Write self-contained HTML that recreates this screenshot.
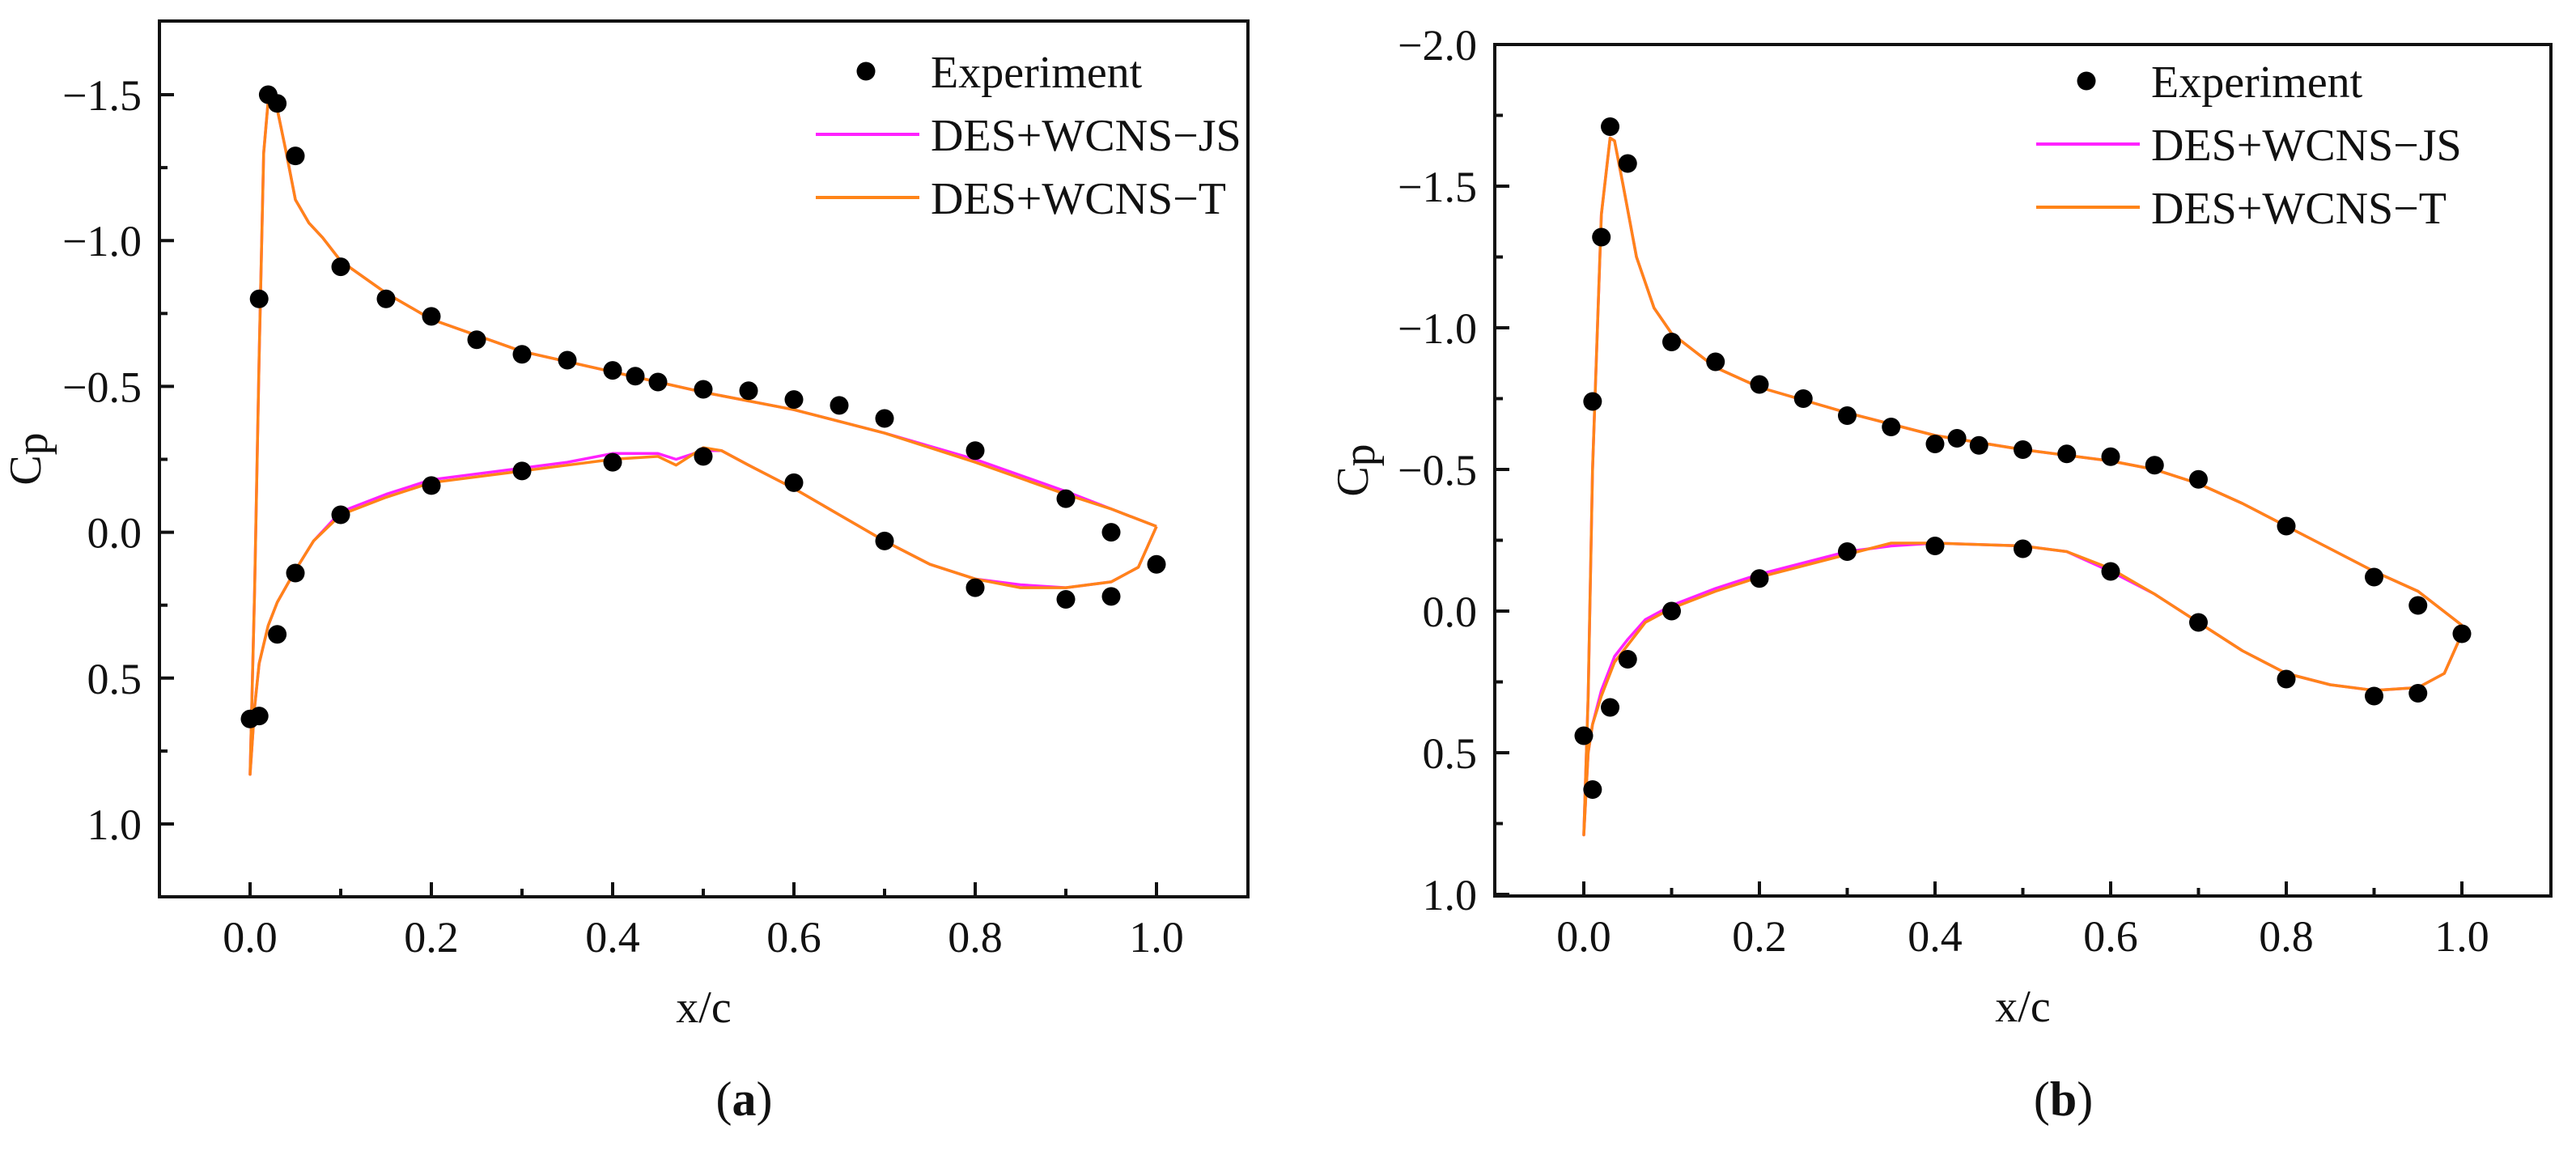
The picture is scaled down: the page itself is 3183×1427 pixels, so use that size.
<!DOCTYPE html>
<html><head><meta charset="utf-8"><style>
html,body{margin:0;padding:0;background:#fff;}
svg text{font-family:"Liberation Serif",serif;fill:#111;}
</style></head><body>
<svg id="fig" width="3183" height="1422" viewBox="0 0 3183 1422" xmlns="http://www.w3.org/2000/svg"></svg>
<script>
// Panel (a) data
const aExpUpX=[0.01,0.02,0.03,0.05,0.1,0.15,0.2,0.25,0.3,0.35,0.4,0.425,0.45,0.5,0.55,0.6,0.65,0.7,0.8,0.9,0.95,1.0];
const aExpUpY=[-0.80,-1.50,-1.47,-1.29,-0.91,-0.80,-0.74,-0.66,-0.61,-0.59,-0.555,-0.535,-0.515,-0.49,-0.485,-0.455,-0.435,-0.39,-0.28,-0.115,0.0,0.11];
const aExpLoX=[0,0.01,0.03,0.05,0.1,0.2,0.3,0.4,0.5,0.6,0.7,0.8,0.9,0.95];
const aExpLoY=[0.64,0.63,0.35,0.14,-0.06,-0.16,-0.21,-0.24,-0.26,-0.17,0.03,0.19,0.23,0.22];
const aCurveX=[1.0,0.95,0.9,0.8,0.7,0.6,0.5,0.4,0.3,0.2,0.15,0.1,0.08,0.065,0.05,0.04,0.03,0.02,0.015,0.01,0.005,0,0.005,0.01,0.02,0.03,0.05,0.07,0.1,0.15,0.2,0.3,0.35,0.4,0.45,0.47,0.5,0.52,0.55,0.6,0.65,0.7,0.75,0.8,0.85,0.9,0.95,0.98,1.0];
const aTY=[-0.02,-0.08,-0.13,-0.24,-0.34,-0.42,-0.48,-0.55,-0.62,-0.73,-0.82,-0.93,-1.01,-1.06,-1.14,-1.3,-1.45,-1.48,-1.3,-0.6,0.2,0.83,0.6,0.45,0.32,0.24,0.13,0.03,-0.06,-0.12,-0.17,-0.21,-0.23,-0.25,-0.26,-0.23,-0.29,-0.28,-0.23,-0.15,-0.06,0.03,0.11,0.16,0.19,0.19,0.17,0.12,-0.02];
const aJSY=[-0.02,-0.08,-0.14,-0.25,-0.34,-0.42,-0.48,-0.55,-0.62,-0.73,-0.82,-0.93,-1.01,-1.06,-1.14,-1.3,-1.45,-1.48,-1.3,-0.6,0.2,0.83,0.6,0.45,0.32,0.24,0.13,0.03,-0.07,-0.13,-0.18,-0.22,-0.24,-0.27,-0.27,-0.25,-0.28,-0.28,-0.23,-0.15,-0.06,0.03,0.11,0.16,0.18,0.19,0.17,0.12,-0.02];
// Panel (b) data
const bExpUpX=[0.01,0.02,0.03,0.05,0.1,0.15,0.2,0.25,0.3,0.35,0.4,0.425,0.45,0.5,0.55,0.6,0.65,0.7,0.8,0.9,0.95,1.0];
const bExpUpY=[-0.74,-1.32,-1.71,-1.58,-0.95,-0.88,-0.80,-0.75,-0.69,-0.65,-0.59,-0.61,-0.585,-0.57,-0.555,-0.545,-0.515,-0.465,-0.30,-0.12,-0.02,0.08];
const bExpLoX=[0,0.01,0.03,0.05,0.1,0.2,0.3,0.4,0.5,0.6,0.7,0.8,0.9,0.95];
const bExpLoY=[0.44,0.63,0.34,0.17,0.0,-0.115,-0.21,-0.23,-0.22,-0.14,0.04,0.24,0.30,0.29];
const bCurveX=[1.0,0.95,0.9,0.85,0.8,0.75,0.7,0.65,0.6,0.5,0.4,0.3,0.2,0.15,0.1,0.08,0.06,0.045,0.035,0.03,0.02,0.01,0.005,0,0.005,0.01,0.02,0.035,0.05,0.07,0.1,0.15,0.2,0.3,0.35,0.4,0.5,0.55,0.6,0.65,0.7,0.75,0.8,0.85,0.9,0.95,0.98,1.0];
const bTY=[0.05,-0.07,-0.14,-0.22,-0.30,-0.38,-0.45,-0.50,-0.53,-0.57,-0.62,-0.70,-0.79,-0.86,-0.98,-1.07,-1.25,-1.5,-1.66,-1.67,-1.4,-0.5,0.3,0.79,0.5,0.4,0.3,0.18,0.12,0.04,-0.01,-0.07,-0.12,-0.20,-0.24,-0.24,-0.23,-0.21,-0.15,-0.06,0.04,0.14,0.22,0.26,0.28,0.27,0.22,0.08];
const bJSY=[0.05,-0.07,-0.14,-0.22,-0.30,-0.38,-0.45,-0.50,-0.53,-0.57,-0.62,-0.70,-0.79,-0.86,-0.98,-1.07,-1.25,-1.5,-1.66,-1.67,-1.4,-0.5,0.3,0.79,0.5,0.4,0.28,0.16,0.10,0.03,-0.02,-0.08,-0.13,-0.21,-0.23,-0.24,-0.23,-0.21,-0.14,-0.06,0.04,0.14,0.22,0.26,0.28,0.27,0.22,0.08];
const xTicks=[0.0,0.2,0.4,0.6,0.8,1.0];
const aYTicks=[-1.5,-1.0,-0.5,0.0,0.5,1.0];
const bYTicks=[-2.0,-1.5,-1.0,-0.5,0.0,0.5,1.0];

const NS="http://www.w3.org/2000/svg";
const svg=document.getElementById('fig');
function mk(tag,attrs,parent){const e=document.createElementNS(NS,tag);for(const k in attrs)e.setAttribute(k,attrs[k]);(parent||svg).appendChild(e);return e;}
function fmt(v){return (v<0?'\u2212':'')+Math.abs(v).toFixed(1);}

function panel(P){
  const g=mk('g',{});
  
  
  const sx=v=>P.x0+v*P.xs;
  const sy=v=>P.y0+(v-P.yRef)*P.ys;
  const fr=mk('rect',{x:P.L,y:P.T,width:P.R-P.L,height:P.B-P.T,fill:'none',stroke:'#111','stroke-width':4},g);
  
  
  for(let v=0;v<=1.0001;v+=0.1){
    const major=Math.abs(Math.round(v*10)%2)===0;
    mk('line',{x1:sx(v),x2:sx(v),y1:P.B,y2:P.B-(major?18:10),stroke:'#111','stroke-width':4},g);
  }
  xTicks.forEach(v=>{
    const t=mk('text',{x:sx(v),y:P.B+68,'font-size':54,'text-anchor':'middle'},g);
    t.textContent=v.toFixed(1);
    
    
  });
  const yt=P.yTicks;
  for(let i=0;i<yt.length;i++){
    mk('line',{x1:P.L,x2:P.L+18,y1:sy(yt[i]),y2:sy(yt[i]),stroke:'#111','stroke-width':4},g);
    if(i<yt.length-1){const m=(yt[i]+yt[i+1])/2;mk('line',{x1:P.L,x2:P.L+10,y1:sy(m),y2:sy(m),stroke:'#111','stroke-width':4},g);}
    const t=mk('text',{x:P.L-22,y:sy(yt[i])+19,'font-size':54,'text-anchor':'end'},g);
    t.textContent=fmt(yt[i]);
    
    
  }
  const path=(xs,ys)=>xs.map((x,i)=>(i?'L':'M')+sx(x).toFixed(1)+','+sy(ys[i]).toFixed(1)).join(' ');
  const js=mk('path',{d:path(P.cx,P.js),fill:'none',stroke:'#ff22ff','stroke-width':3.5,'stroke-linejoin':'round'},g);
  
  
  const tl=mk('path',{d:path(P.cx,P.t),fill:'none',stroke:'#ff8418','stroke-width':3.5,'stroke-linejoin':'round'},g);
  
  
  [[P.ux,P.uy],[P.lx,P.ly]].forEach(([xs,ys])=>xs.forEach((x,i)=>{
    const c=mk('circle',{cx:sx(x),cy:sy(ys[i]),r:11.5,fill:'#000'},g);
    
    
  }));
  const lg=mk('g',{},g);
  
  
  const lc=mk('circle',{cx:P.lgx+62,cy:P.lgy,r:11.5,fill:'#000'},lg);
  
  
  const l1=mk('line',{x1:P.lgx,x2:P.lgx+128,y1:P.lgy+78,y2:P.lgy+78,stroke:'#ff22ff','stroke-width':4},lg);
  
  
  const l2=mk('line',{x1:P.lgx,x2:P.lgx+128,y1:P.lgy+156,y2:P.lgy+156,stroke:'#ff8418','stroke-width':4},lg);
  
  
  ['Experiment','DES+WCNS\u2212JS','DES+WCNS\u2212T'].forEach((s,i)=>{
    const t=mk('text',{x:P.lgx+142,y:P.lgy+20+78*i,'font-size':56},lg);
    t.textContent=s;
    
    
  });
  const xt=mk('text',{x:(P.L+P.R)/2,y:P.B+155,'font-size':56,'text-anchor':'middle'},g);
  xt.textContent='x/c';
  
  
  const ytt=mk('text',{x:0,y:0,'font-size':56,'text-anchor':'middle',transform:`translate(${P.ytx},${(P.T+P.B)/2}) rotate(-90)`},g);
  ytt.innerHTML='C<tspan dy="8">p</tspan>';
  
  
  const cap=mk('text',{x:(P.L+P.R)/2+50,y:1378,'font-size':60,'text-anchor':'middle'},g);
  cap.innerHTML='(<tspan font-weight="bold">'+P.cap+'</tspan>)';
  
  
}

panel({name:'panel-a',L:197,R:1542,T:26,B:1108,x0:309,xs:1120,y0:117,yRef:-1.5,ys:360.4,yTicks:aYTicks,
  cx:aCurveX,t:aTY,js:aJSY,ux:aExpUpX,uy:aExpUpY,lx:aExpLoX,ly:aExpLoY,lgx:1008,lgy:88,ytx:50,cap:'a'});
panel({name:'panel-b',L:1847,R:3152,T:55,B:1107,x0:1957,xs:1085,y0:55,yRef:-2.0,ys:350,yTicks:bYTicks,
  cx:bCurveX,t:bTY,js:bJSY,ux:bExpUpX,uy:bExpUpY,lx:bExpLoX,ly:bExpLoY,lgx:2516,lgy:100,ytx:1690,cap:'b'});
</script>
</body></html>
